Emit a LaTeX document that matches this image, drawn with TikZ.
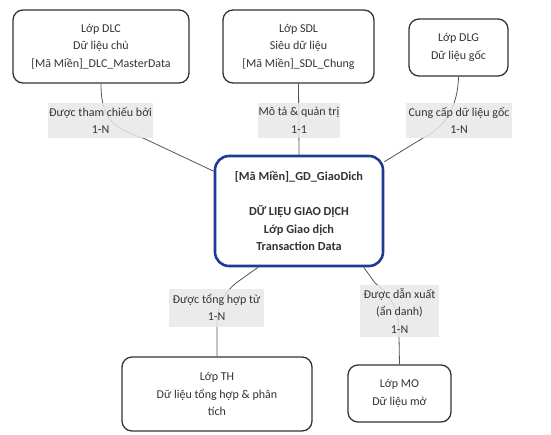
\documentclass[tikz,border=0pt]{standalone}
\usepackage{fontspec}
\setmainfont{Carlito}
\definecolor{txt}{HTML}{333333}
\definecolor{boxline}{HTML}{333333}
\definecolor{gdline}{HTML}{1F3A93}
\definecolor{edge}{HTML}{555555}
\definecolor{lblbg}{HTML}{E8E8E8}
\begin{document}
\begin{tikzpicture}[x=1pt,y=-1pt,
  box/.style={draw=boxline, line width=1.3pt, rounded corners=10pt, fill=white,
    align=center, text=txt, inner sep=0pt, font=\fontsize{12}{17.5}\selectfont},
  gdbox/.style={box, draw=gdline, line width=2.6pt, rounded corners=14pt, font=\bfseries\fontsize{12.3}{17.5}\selectfont},
  lbl/.style={fill=lblbg, fill opacity=0.85, text opacity=1, text=txt, inner sep=0pt,
    align=center, font=\fontsize{12}{17.5}\selectfont},
  conn/.style={draw=edge, line width=0.8pt}]
\useasboundingbox (0,0) rectangle (551,434);
% boxes
\node[box, minimum width=176pt, minimum height=73pt] (dlc) at (101,46.5)
  {Lớp DLC\\Dữ liệu chủ\\{[Mã Miền]\_DLC\_MasterData}};
\node[box, minimum width=151pt, minimum height=73pt] (sdl) at (298.5,46.5)
  {Lớp SDL\\Siêu dữ liệu\\{[Mã Miền]\_SDL\_Chung}};
\node[box, minimum width=99pt, minimum height=57pt] (dlg) at (458.5,47.5)
  {Lớp DLG\\Dữ liệu gốc};
\node[gdbox, minimum width=168pt, minimum height=110pt] (gd) at (299,211)
  {{[Mã Miền]\_GD\_GiaoDich}\\~\\DỮ LIỆU GIAO DỊCH\\Lớp Giao dịch\\Transaction Data};
\node[box, minimum width=190pt, minimum height=74pt] (th) at (217,394)
  {Lớp TH\\Dữ liệu tổng hợp \& phân\\tích};
\node[box, minimum width=103pt, minimum height=57pt] (mo) at (399.5,393.5)
  {Lớp MO\\Dữ liệu mở};
% connectors
\draw[conn] (dlc.south) .. controls (101,118) and (112,128) .. (143,138) -- (gd.155);
\draw[conn] (sdl.south) -- (gd.north);
\draw[conn] (dlg.south) .. controls (458,100) and (450,125) .. (423,138) -- (gd.30);
\draw[conn] (gd.234) -- (236,283) .. controls (218,298) and (217,314) .. (217,330) -- (th.north);
\draw[conn] (gd.319) -- (375,283) .. controls (398,300) and (399,320) .. (399,337) -- (mo.north);
% labels
\node[lbl, minimum width=105pt, minimum height=35pt] (l1) at (100.5,120.5) {Được tham chiếu bởi\\1-N};
\node[lbl, minimum width=82pt, minimum height=35pt] (l2) at (299,120.5) {Mô tả \& quản trị\\1-1};
\node[lbl, minimum width=106pt, minimum height=35pt] (l3) at (459,120.5) {Cung cấp dữ liệu gốc\\1-N};
\node[lbl, minimum width=95pt, minimum height=38pt] (l4) at (216.5,307.5) {Được tổng hợp từ\\1-N};
\node[lbl, minimum width=79pt, minimum height=52pt] (l5) at (399.5,311) {Được dẫn xuất\\(ẩn danh)\\1-N};
\end{tikzpicture}
\end{document}
